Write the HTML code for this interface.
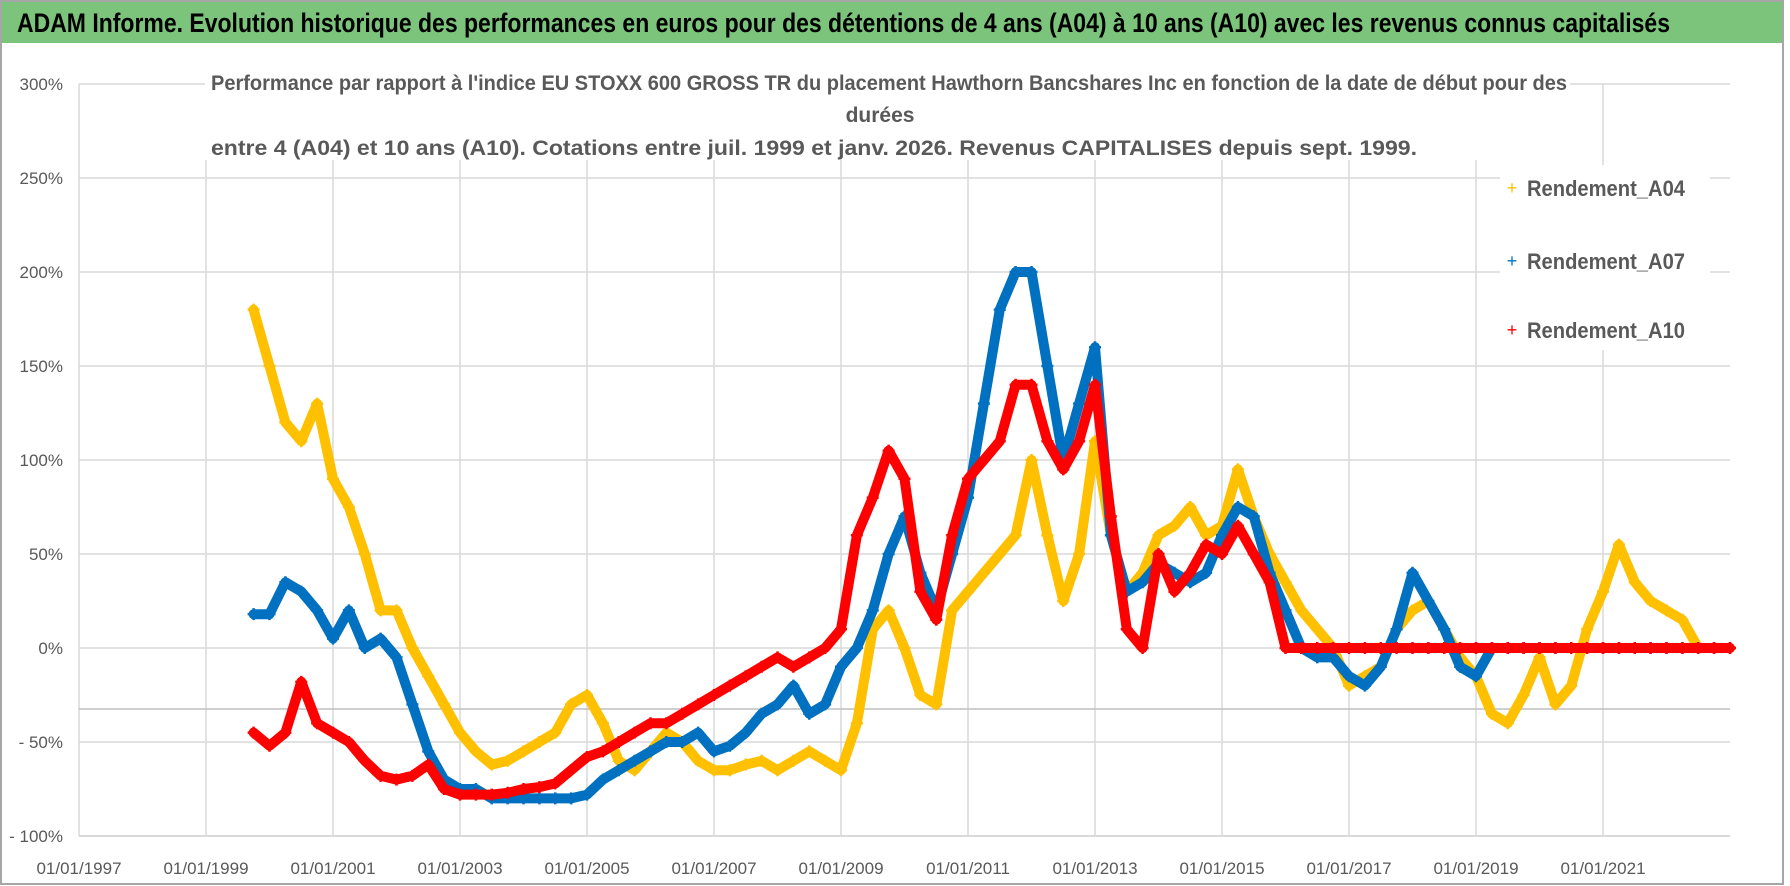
<!DOCTYPE html>
<html><head><meta charset="utf-8"><style>
html,body{margin:0;padding:0;background:#fff;width:1790px;height:886px;overflow:hidden}
svg{display:block;font-family:"Liberation Sans Narrow","Liberation Sans",sans-serif}
</style></head><body>
<svg id="chart" width="1790" height="886" viewBox="0 0 1790 886" xmlns="http://www.w3.org/2000/svg">
<rect x="0" y="0" width="1790" height="886" fill="#fff"/>
<rect x="1" y="1" width="1782" height="883" fill="none" stroke="#a6a6a6" stroke-width="2"/>
<rect x="2" y="2" width="1780" height="41" fill="#7cc47c"/>
<text x="17" y="32" font-size="27" font-weight="bold" fill="#000" textLength="1653" lengthAdjust="spacingAndGlyphs">ADAM Informe. Evolution historique des performances en euros pour des détentions de 4 ans (A04) à 10 ans (A10) avec les revenus connus capitalisés</text>
<g id="grid"></g>
<g id="axes"></g>
<rect x="205" y="64" width="1365" height="96" fill="#fff"/>
<text x="211" y="90" font-size="21" font-weight="bold" fill="#595959" textLength="1356" lengthAdjust="spacingAndGlyphs">Performance par rapport à l'indice EU STOXX 600 GROSS TR  du placement Hawthorn Bancshares Inc en fonction de la date de début pour des</text>
<text x="880" y="122" font-size="21" font-weight="bold" fill="#595959" text-anchor="middle">durées</text>
<text x="211" y="155" font-size="21" font-weight="bold" fill="#595959" textLength="1206" lengthAdjust="spacingAndGlyphs">entre 4 (A04) et 10 ans (A10). Cotations entre juil. 1999 et janv. 2026. Revenus CAPITALISES depuis sept. 1999.</text>
<g id="series"></g>
<g>
<rect x="1500" y="165" width="210" height="185" fill="#fff"/>
<g><text x="1512" y="194" font-size="18" fill="#ffc000" text-anchor="middle">+</text><text x="1527" y="196" font-size="22" font-weight="bold" fill="#595959" textLength="158" lengthAdjust="spacingAndGlyphs">Rendement_A04</text></g>
<g><text x="1512" y="267" font-size="18" fill="#0070c0" text-anchor="middle">+</text><text x="1527" y="269" font-size="22" font-weight="bold" fill="#595959" textLength="158" lengthAdjust="spacingAndGlyphs">Rendement_A07</text></g>
<g><text x="1512" y="336" font-size="18" fill="#ff0000" text-anchor="middle">+</text><text x="1527" y="338" font-size="22" font-weight="bold" fill="#595959" textLength="158" lengthAdjust="spacingAndGlyphs">Rendement_A10</text></g>
</g>
</svg>
<script>
const yTicks=[300,250,200,150,100,50,0,-50,-100];
const yTickLabels=["300%","250%","200%","150%","100%","50%","0%","- 50%","- 100%"];
const xTicks=[1997,1999,2001,2003,2005,2007,2009,2011,2013,2015,2017,2019,2021];
const xTickLabels=["01/01/1997","01/01/1999","01/01/2001","01/01/2003","01/01/2005","01/01/2007","01/01/2009","01/01/2011","01/01/2013","01/01/2015","01/01/2017","01/01/2019","01/01/2021"];
const years=[1999.75];
for(let y=2000;y<=2022;y++){years.push(y,y+0.25,y+0.5,y+0.75);}
years.push(2023);
const a04=[180,
150,120,110,130, 90,75,50,20, 20,0,-15,-30, -45,-55,-62,-60, -55,-50,-45,-30,
-25,-40,-60,-65, -55,-45,-50,-60, -65,-65,-62,-60, -65,-60,-55,-60, -65,-40,10,20,
0,-25,-30,20, 30,40,50,60, 100,60,25,50, 110,60,30,40, 60,65,75,60,
65,95,70,50, 35,20,10,0, -20,-15,-10,10, 20,25,10,-5, -15,-35,-40,-25,
-5,-30,-20,10, 30,55,35,25, 20,15,0,0, 0];
const a07=[18,
18,35,30,20, 5,20,0,5, -5,-30,-55,-70, -75,-75,-80,-80, -80,-80,-80,-80,
-78,-70,-65,-60, -55,-50,-50,-45, -55,-52,-45,-35, -30,-20,-35,-30, -10,0,20,50,
70,40,20,50, 80,130,180,200, 200,150,100,130, 160,60,30,35, 45,40,35,40,
60,75,70,40, 20,0,-5,-5, -15,-20,-10,10, 40,25,10,-10, -15,0,0,0,
0,0,0,0, 0,0,0,0, 0,0,0,0, 0];
const a10=[-45,
-52,-45,-18,-40, -45,-50,-60,-68, -70,-68,-62,-75, -78,-78,-78,-77, -75,-74,-72,-65,
-58,-55,-50,-45, -40,-40,-35,-30, -25,-20,-15,-10, -5,-10,-5,0, 10,60,80,105,
90,30,15,60, 90,100,110,140, 140,110,95,110, 140,70,10,0, 50,30,40,55,
50,65,50,35, 0,0,0,0, 0,0,0,0, 0,0,0,0, 0,0,0,0,
0,0,0,0, 0,0,0,0, 0,0,0,0, 0];
const NS="http://www.w3.org/2000/svg";
const X0=79,XR=1730;
function xs(yr){return 79+(yr-1997)*63.5;}
function ys(v){return 648-v*1.88;}
function mk(tag,attrs,parent){const e=document.createElementNS(NS,tag);for(const k in attrs)e.setAttribute(k,attrs[k]);parent.appendChild(e);return e;}
const grid=document.getElementById('grid'),axes=document.getElementById('axes'),ser=document.getElementById('series');
yTicks.forEach((t,i)=>{
  const l=mk('line',{x1:X0,x2:XR,y1:ys(t),y2:ys(t),stroke:'#d9d9d9','stroke-width':1.5},grid);
  
  
  const tx=mk('text',{x:63,y:ys(t)+6,'font-size':17,fill:'#595959','text-anchor':'end'},axes);
  tx.textContent=yTickLabels[i];
  
  
});
xTicks.forEach((t,i)=>{
  const l=mk('line',{x1:xs(t),x2:xs(t),y1:ys(300),y2:ys(-100),stroke:'#d9d9d9','stroke-width':1.5},grid);
  
  
  const tx=mk('text',{x:xs(t),y:874,'font-size':17,fill:'#595959','text-anchor':'middle'},axes);
  tx.textContent=xTickLabels[i];
  
  
});
const ref=mk('line',{x1:X0,x2:XR,y1:709,y2:709,stroke:'#bfbfbf','stroke-width':1.5},grid);


const ax=mk('line',{x1:X0,x2:XR,y1:ys(-100),y2:ys(-100),stroke:'#d9d9d9','stroke-width':2},axes);


function drawSeries(vals,color,name){
  const g=mk('g',{},ser);
  
  
  const pts=vals.map((v,i)=>xs(years[i]).toFixed(1)+','+ys(v).toFixed(1)).join(' ');
  const pl=mk('polyline',{points:pts,fill:'none',stroke:color,'stroke-width':10,'stroke-linejoin':'round','stroke-linecap':'round'},g);
  
  
  vals.forEach((v,i)=>{
    const x=xs(years[i]),y=ys(v);
    const p=mk('path',{d:`M${x-6},${y}H${x+6}M${x},${y-6}V${y+6}`,stroke:color,'stroke-width':2.5},g);
    
    
  });
}
drawSeries(a04,'#ffc000','series-a04');
drawSeries(a07,'#0070c0','series-a07');
drawSeries(a10,'#ff0000','series-a10');
</script>
</body></html>
